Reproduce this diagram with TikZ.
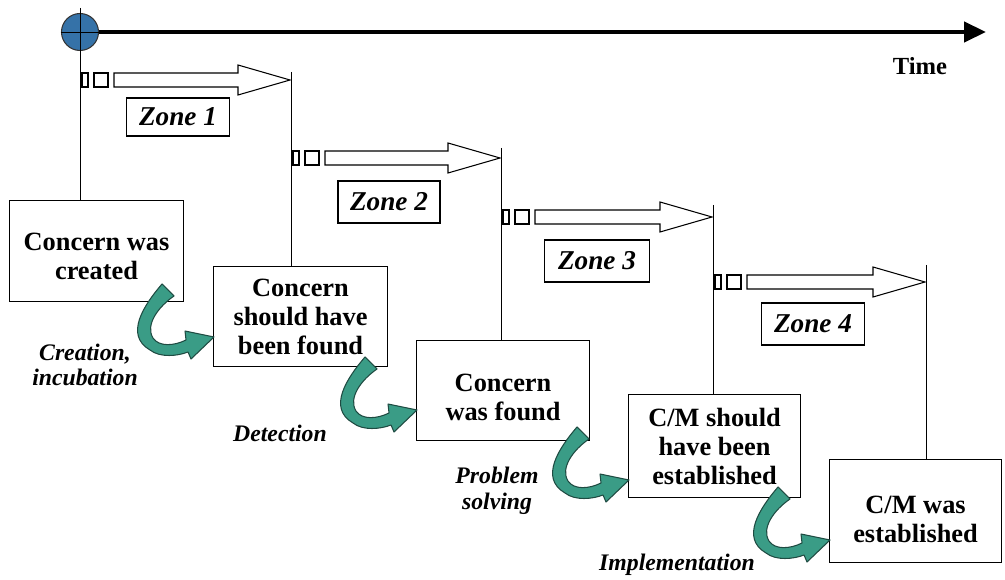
\documentclass[tikz,border=0pt]{standalone}
\usepackage{fontspec}
\setmainfont{Liberation Serif}
\usetikzlibrary{arrows.meta,calc}
\definecolor{turn}{HTML}{3A9C86}
\definecolor{turnedge}{HTML}{1F4B42}
\definecolor{origin}{HTML}{3572A8}

\tikzset{
  stage/.style={draw, line width=0.6pt, fill=white, align=center,
    font=\fontsize{15}{16.5}\selectfont\bfseries,
    inner sep=0pt, anchor=north west},
  zonelabel/.style={draw, line width=0.6pt, fill=white,
    font=\fontsize{15.5}{17}\selectfont\bfseries\itshape, inner sep=0pt},
  phase/.style={align=center, font=\fontsize{13.5}{14.5}\selectfont\bfseries\itshape},
  guide/.style={line width=0.5pt},
  outline/.style={line width=0.6pt, line join=miter},
  turnfill/.style={fill=turn, draw=turnedge, line width=0.6pt, line join=round}
}

% hollow zone arrow: start x, centre y, length
\newcommand\zonearrow[3]{%
  \begin{scope}[shift={(#1,#2)}]
    \draw[outline] (2,-7) rectangle (8,7);
    \draw[outline] (14,-7) rectangle (28,7);
    \draw[outline] (34,-7) -- (#3-52,-7) -- (#3-52,-15) -- (#3,0)
      -- (#3-52,15) -- (#3-52,7) -- (34,7) -- cycle;
  \end{scope}}

% curved transition arrow, placed at its tail
\newcommand\turnarrow[1]{%
  \begin{scope}[shift={#1}]
    \filldraw[turnfill]
      (-6,-7) .. controls (-24,14) and (-44,44) .. (-18,59)
      .. controls (-8,67) and (10,65) .. (20,61)
      -- (23,68) -- (46,46) -- (17,40) -- (18,49)
      .. controls (6,55) and (-9,56) .. (-15,47)
      .. controls (-23,34) and (-10,16) .. (6,5) -- cycle;
  \end{scope}}

% strut pushing a two-line stage text a little lower
\newcommand\lowstrut[1]{\rule{0pt}{#1}}

\begin{document}
\begin{tikzpicture}[x=0.2mm,y=-0.2mm]
\useasboundingbox (0,0) rectangle (1005,580);

% time axis with its origin
\node[circle, draw=black!80, fill=origin, line width=0.6pt, minimum size=7.4mm, inner sep=0pt] (o) at (80,32) {};
\coordinate (tend) at (986,32);
\draw[line width=0.85mm, -{Triangle[length=4.4mm, width=4mm]}] (o.east) -- (tend);
\draw[guide] (o.west) -- (o.east);
\node[font=\fontsize{14}{16}\selectfont\bfseries] (time) at (920,66) {Time};

% stages
\node[stage, minimum width=34.8mm, minimum height=20.2mm] (b1) at (9,200) {\lowstrut{15.5pt}Concern was\\created};
\node[stage, minimum width=34.8mm, minimum height=20mm] (b2) at (213,266) {Concern\\should have\\been found};
\node[stage, minimum width=34.6mm, minimum height=20mm] (b3) at (416,340) {\lowstrut{18pt}Concern\\was found};
\node[stage, minimum width=34.4mm, minimum height=20.6mm] (b4) at (628,394) {C/M should\\have been\\established};
\node[stage, minimum width=34.4mm, minimum height=20.6mm] (b5) at (829,459) {\lowstrut{19pt}C/M was\\established};

% guide lines dropping to each stage
\coordinate (v1) at (80,8);
\coordinate (v2) at (291,72);
\coordinate (v3) at (501,148);
\coordinate (v4) at (713,205);
\coordinate (v5) at (926,265);
\draw[guide] (v1) -- (v1 |- b1.north);
\draw[guide] (v2) -- (v2 |- b2.north);
\draw[guide] (v3) -- (v3 |- b3.north);
\draw[guide] (v4) -- (v4 |- b4.north);
\draw[guide] (v5) -- (v5 |- b5.north);

% zone arrows and their labels
\zonearrow{80}{80}{210}
\zonearrow{291}{158}{209}
\zonearrow{501}{217}{211}
\zonearrow{713}{282}{212}
\node[zonelabel, minimum width=20.6mm, minimum height=7.6mm] (z1) at (178,117) {Zone 1};
\node[zonelabel, minimum width=20.4mm, minimum height=8.4mm] (z2) at (389,202) {Zone 2};
\node[zonelabel, minimum width=21mm, minimum height=8.4mm] (z3) at (597,261) {Zone 3};
\node[zonelabel, minimum width=20.6mm, minimum height=8.4mm] (z4) at (813,324) {Zone 4};

% transitions between stages
\turnarrow{($(b2.north west)+(-45,25)$)}
\turnarrow{($(b3.north west)+(-45,24)$)}
\turnarrow{($(b4.north west)+(-45,40)$)}
\turnarrow{($(b5.north west)+(-45,35)$)}

% phase names
\node[phase] (p1) at (85,365) {Creation,\\incubation};
\node[phase] (p2) at (280,433) {Detection};
\node[phase] (p3) at (497,491) {Problem\\solving};
\node[phase] (p4) at (677,565) {Implementation};
\end{tikzpicture}
\end{document}
